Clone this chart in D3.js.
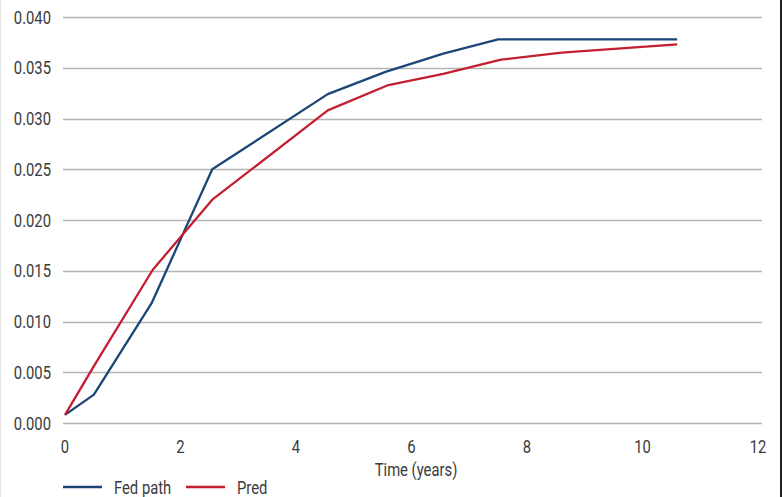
<!DOCTYPE html>
<html>
<head>
<meta charset="UTF-8" />
<script src="https://d3js.org/d3.v7.min.js"></script>
<style>
  html, body { margin: 0; padding: 0; background: #fff; }
  svg { display: block; }
  text { font-family: Roboto, "Noto Sans", sans-serif; fill: #3a3a3a; }
</style>
</head>
<body>
<div id="chart"></div>
<script>
  const width = 782;
  const height = 497;

  // series data
  const fedX = [0, 0.5, 1.5, 2.55, 4.55, 5.55, 6.55, 7.5, 10.6];
  const fedY = [0.0008, 0.0028, 0.0118, 0.0250, 0.0324, 0.0346, 0.0364, 0.0378, 0.0378];
  const predX = [0, 0.5, 1.52, 2.55, 4.55, 5.6, 6.55, 7.55, 8.6, 10.6];
  const predY = [0.0008, 0.0056, 0.0151, 0.0220, 0.0308, 0.0333, 0.0344, 0.0358, 0.0365, 0.0373];
  const xTicks = [0, 2, 4, 6, 8, 10, 12];
  const yTicks = [0, 0.005, 0.01, 0.015, 0.02, 0.025, 0.03, 0.035, 0.04];
  const seriesNames = ["Fed path", "Pred"];
  const colors = ["#1b4677", "#c41f30"];

  const x = d3.scaleLinear().domain([0, 12]).range([65, 758]);
  const y = d3.scaleLinear().domain([0, 0.04]).range([423, 17]);

  const fontSize = 18.5;
  const squeeze = 0.8; // the original font is a narrow one

  const svg = d3.select("#chart").append("svg")
    .attr("width", width)
    .attr("height", height);

  // draws narrow text at (px, py)
  function label(sel, px, py, anchor) {
    return sel.append("text")
      .attr("transform", `translate(${px},${py}) scale(${squeeze},1)`)
      .attr("text-anchor", anchor)
      .attr("font-size", fontSize);
  }

  // frame edges
  svg.append("line").attr("x1", 0.5).attr("x2", 0.5).attr("y1", 0).attr("y2", height)
    .attr("stroke", "#e6e6e6");
  svg.append("line").attr("x1", width - 1).attr("x2", width - 1).attr("y1", 0).attr("y2", height)
    .attr("stroke", "#222").attr("stroke-width", 2);

  // gridlines
  svg.append("g")
    .selectAll("line")
    .data(yTicks)
    .join("line")
    .attr("x1", 63)
    .attr("x2", 762)
    .attr("y1", d => Math.round(y(d)) + 0.5)
    .attr("y2", d => Math.round(y(d)) + 0.5)
    .attr("stroke", "#b4b4b4")
    .attr("stroke-width", 1.3);

  // y labels
  const yAxisG = svg.append("g");
  yTicks.forEach(d => {
    label(yAxisG, 51, y(d) + 6.5, "end").text(d3.format(".3f")(d));
  });

  // x labels
  const xAxisG = svg.append("g");
  xTicks.forEach(d => {
    label(xAxisG, x(d), 453, "middle").text(d);
  });

  label(svg, 416, 476, "middle").text("Time (years)");

  const line = d3.line()
    .x(d => x(d[0]))
    .y(d => y(d[1]));

  const series = [
    d3.zip(fedX, fedY),
    d3.zip(predX, predY)
  ];

  svg.append("g")
    .selectAll("path")
    .data(series)
    .join("path")
    .attr("d", line)
    .attr("fill", "none")
    .attr("stroke", (d, i) => colors[i])
    .attr("stroke-width", 2.3)
    .attr("stroke-linejoin", "round");

  // legend
  const legendPos = [63, 186];
  seriesNames.forEach((name, i) => {
    svg.append("line")
      .attr("x1", legendPos[i]).attr("x2", legendPos[i] + 39)
      .attr("y1", 487).attr("y2", 487)
      .attr("stroke", colors[i])
      .attr("stroke-width", 2.3);
    label(svg, legendPos[i] + 51, 493.5, "start").text(name);
  });
</script>
</body>
</html>
